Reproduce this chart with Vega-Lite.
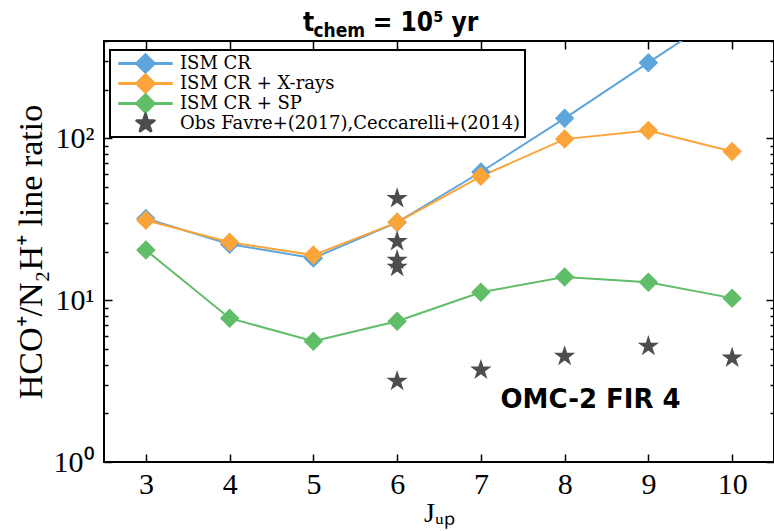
{
  "$schema": "https://vega.github.io/schema/vega-lite/v6.json",
  "width": 670,
  "height": 421,
  "autosize": {"type": "none"},
  "padding": {"left": 104, "top": 41, "right": 0, "bottom": 69},
  "background": "white",
  "config": {
    "view": {"stroke": "black", "strokeWidth": 2},
    "axis": {
      "domain": false, "grid": false, "tickColor": "black", "tickWidth": 1.5,
      "labelColor": "black", "titleColor": "black",
      "labelFont": "Liberation Serif", "titleFont": "Liberation Serif",
      "labelFontSize": 30, "titleFontSize": 30, "titleFontWeight": "normal"
    }
  },
  "datasets": {
    "main": [
      {"J": 3, "ratio": 32, "series": "ISM CR"},
      {"J": 4, "ratio": 22.2, "series": "ISM CR"},
      {"J": 5, "ratio": 18.2, "series": "ISM CR"},
      {"J": 6, "ratio": 30.3, "series": "ISM CR"},
      {"J": 7, "ratio": 62, "series": "ISM CR"},
      {"J": 8, "ratio": 133, "series": "ISM CR"},
      {"J": 9, "ratio": 294, "series": "ISM CR"},
      {"J": 10, "ratio": 645, "series": "ISM CR"},
      {"J": 3, "ratio": 31.2, "series": "ISM CR + X-rays"},
      {"J": 4, "ratio": 22.8, "series": "ISM CR + X-rays"},
      {"J": 5, "ratio": 19, "series": "ISM CR + X-rays"},
      {"J": 6, "ratio": 30.3, "series": "ISM CR + X-rays"},
      {"J": 7, "ratio": 58.3, "series": "ISM CR + X-rays"},
      {"J": 8, "ratio": 99, "series": "ISM CR + X-rays"},
      {"J": 9, "ratio": 112, "series": "ISM CR + X-rays"},
      {"J": 10, "ratio": 83, "series": "ISM CR + X-rays"},
      {"J": 3, "ratio": 20.4, "series": "ISM CR + SP"},
      {"J": 4, "ratio": 7.74, "series": "ISM CR + SP"},
      {"J": 5, "ratio": 5.58, "series": "ISM CR + SP"},
      {"J": 6, "ratio": 7.42, "series": "ISM CR + SP"},
      {"J": 7, "ratio": 11.2, "series": "ISM CR + SP"},
      {"J": 8, "ratio": 13.9, "series": "ISM CR + SP"},
      {"J": 9, "ratio": 12.9, "series": "ISM CR + SP"},
      {"J": 10, "ratio": 10.3, "series": "ISM CR + SP"},
      {"J": 6, "ratio": 42.6, "series": "Obs Favre+(2017),Ceccarelli+(2014)"},
      {"J": 6, "ratio": 23.1, "series": "Obs Favre+(2017),Ceccarelli+(2014)"},
      {"J": 6, "ratio": 17.7, "series": "Obs Favre+(2017),Ceccarelli+(2014)"},
      {"J": 6, "ratio": 16, "series": "Obs Favre+(2017),Ceccarelli+(2014)"},
      {"J": 6, "ratio": 3.16, "series": "Obs Favre+(2017),Ceccarelli+(2014)"},
      {"J": 7, "ratio": 3.7, "series": "Obs Favre+(2017),Ceccarelli+(2014)"},
      {"J": 8, "ratio": 4.5, "series": "Obs Favre+(2017),Ceccarelli+(2014)"},
      {"J": 9, "ratio": 5.2, "series": "Obs Favre+(2017),Ceccarelli+(2014)"},
      {"J": 10, "ratio": 4.39, "series": "Obs Favre+(2017),Ceccarelli+(2014)"}
    ],
    "notes": [
      {"J": 8.31, "ratio": 2.15, "label": "OMC-2 FIR 4"}
    ],
    "titleparts": [
      {"J": 4.876, "ratio": 461, "label": "t", "part": "main"},
      {"J": 5.0, "ratio": 425, "label": "chem", "part": "sub"},
      {"J": 5.71, "ratio": 461, "label": "= 10⁵ yr", "part": "main"}
    ]
  },
  "data": {"name": "main"},
  "resolve": {"axis": {"x": "independent", "y": "independent"}},
  "layer": [
    {
      "transform": [{"filter": "datum.series !== 'Obs Favre+(2017),Ceccarelli+(2014)'"}],
      "mark": {"type": "line", "strokeWidth": 2, "clip": true},
      "encoding": {
        "x": {"field": "J", "type": "quantitative",
              "scale": {"domain": [2.5, 10.5], "nice": false, "zero": false},
              "axis": {"orient": "bottom", "values": [3,4,5,6,7,8,9,10], "format": "d", "tickSize": -8, "labelPadding": 15, "title": "Jᵤₚ", "titleFontSize": 28, "titlePadding": 0}},
        "y": {"field": "ratio", "type": "quantitative",
              "scale": {"type": "log", "domain": [1, 400], "nice": false},
              "axis": {"orient": "left", "values": [1, 10, 100], "tickSize": -8, "labelPadding": 18,
                       "labelExpr": "datum.value == 1 ? '10⁰' : datum.value == 10 ? '10¹' : '10²'",
                       "title": "HCO⁺/N₂H⁺ line ratio", "titlePadding": 5, "titleFontSize": 34}},
        "color": {"field": "series", "type": "nominal",
                  "scale": {"domain": ["ISM CR", "ISM CR + X-rays", "ISM CR + SP", "Obs Favre+(2017),Ceccarelli+(2014)"],
                            "range": ["#5DA5DA", "#FAA43A", "#60BD68", "#4D4D4D"]},
                  "legend": {
                    "orient": "none", "legendX": 6, "legendY": 9, "title": null,
                    "strokeColor": "black", "fillColor": "white", "cornerRadius": 0,
                    "padding": 4, "labelFont": "DejaVu Serif", "labelFontSize": 18, "labelColor": "black", "labelLimit": 0,
                    "symbolSize": 256, "symbolOffset": 22, "labelOffset": 25, "rowPadding": -4.5,
                    "symbolStrokeWidth": 3,
                    "encode": {
                      "legend": {"update": {"strokeWidth": {"value": 2}}},
                      "symbols": {"update": {
                      "shape": {"signal": "datum.value === 'Obs Favre+(2017),Ceccarelli+(2014)' ? 'M0,-1.15L0.259,-0.355L1.094,-0.355L0.417,0.136L0.676,0.930L0,0.439L-0.676,0.930L-0.417,0.136L-1.094,-0.355L-0.259,-0.355Z' : 'M-3.4,0L3.4,0M0,-1.1L1.1,0L0,1.1L-1.1,0Z'"},
                      "stroke": {"scale": "color", "field": "value"},
                      "fill": {"scale": "color", "field": "value"},
                      "strokeWidth": {"value": 3},
                      "strokeJoin": {"value": "round"},
                      "opacity": {"value": 1}
                    }}}
                  }}
      }
    },
    {
      "transform": [{"filter": "datum.series !== 'Obs Favre+(2017),Ceccarelli+(2014)'"}],
      "mark": {"type": "point", "shape": "diamond", "filled": true, "size": 380, "opacity": 1, "clip": true},
      "encoding": {
        "x": {"field": "J", "type": "quantitative",
              "axis": {"orient": "top", "values": [3,4,5,6,7,8,9,10], "tickSize": -8, "labels": false, "title": null}},
        "y": {"field": "ratio", "type": "quantitative",
              "axis": {"orient": "left", "values": [2,3,4,5,6,7,8,9,20,30,40,50,60,70,80,90,200,300,400], "tickSize": -4, "labels": false, "title": null}},
        "color": {"field": "series", "type": "nominal"}
      }
    },
    {
      "transform": [{"filter": "datum.series === 'Obs Favre+(2017),Ceccarelli+(2014)'"}],
      "mark": {"type": "point", "filled": true, "size": 500, "opacity": 1,
               "shape": "M0,-1L0.225,-0.309L0.951,-0.309L0.363,0.118L0.588,0.809L0,0.382L-0.588,0.809L-0.363,0.118L-0.951,-0.309L-0.225,-0.309Z"},
      "encoding": {
        "x": {"field": "J", "type": "quantitative", "axis": null},
        "y": {"field": "ratio", "type": "quantitative",
              "axis": {"orient": "right", "values": [1, 10, 100], "tickSize": -8, "labels": false, "title": null}},
        "color": {"field": "series", "type": "nominal"}
      }
    },
    {
      "data": {"name": "notes"},
      "mark": {"type": "text", "font": "DejaVu Sans", "fontWeight": "bold", "fontSize": 26, "align": "center", "baseline": "alphabetic", "color": "black"},
      "encoding": {
        "x": {"field": "J", "type": "quantitative", "axis": null},
        "y": {"field": "ratio", "type": "quantitative",
              "axis": {"orient": "right", "values": [2,3,4,5,6,7,8,9,20,30,40,50,60,70,80,90,200,300,400], "tickSize": -4, "labels": false, "title": null}},
        "text": {"field": "label"}
      }
    },
    {
      "data": {"name": "titleparts"},
      "mark": {"type": "text", "font": "DejaVu Sans Condensed, DejaVu Sans", "fontWeight": "bold", "align": "left", "baseline": "alphabetic", "color": "black"},
      "encoding": {
        "x": {"field": "J", "type": "quantitative", "axis": null},
        "y": {"field": "ratio", "type": "quantitative", "axis": null},
        "text": {"field": "label"},
        "size": {"field": "part", "type": "nominal", "scale": {"domain": ["main", "sub"], "range": [26, 19]}, "legend": null}
      }
    }
  ]
}
